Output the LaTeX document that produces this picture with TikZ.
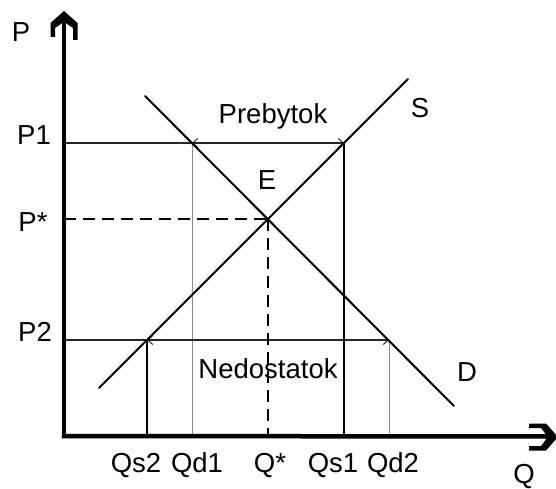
\documentclass[tikz,border=0pt]{standalone}
\usepackage{fontspec}
\setmainfont{Liberation Sans}
\usetikzlibrary{arrows.meta}
\begin{document}
\begin{tikzpicture}[x=1pt,y=-1pt,
  lbl/.style={font=\fontsize{27.5}{32}\selectfont, inner sep=0pt},
  axisline/.style={line width=4.5pt},
  axhead/.style={fill=black, draw=none},
  curve/.style={line width=2pt, line cap=round},
  level/.style={line width=1.3pt, draw=black!85},
  dropblack/.style={line width=1.4pt},
  dropgray/.style={line width=1pt, draw=black!45},
  guide/.style={line width=1.3pt, dash pattern=on 12pt off 7pt},
  tipbarb/.tip={Straight Barb[length=5pt,width=9pt,line width=1pt]},
  gap/.style={level, tipbarb-tipbarb}
]
\useasboundingbox (0,0) rectangle (556,489);
\begin{scope}
\clip (0,0) rectangle (556,489);
% key points
\coordinate (O) at (64,436);
\coordinate (Ytop) at (64,20);
\coordinate (Xend) at (550,436.5);
\coordinate (E) at (268,219);
\coordinate (Slo) at (99,388);
\coordinate (Shi) at (408,79);
\coordinate (Dhi) at (145,96);
\coordinate (Dlo) at (454,406);
\coordinate (P1) at (64,143);
\coordinate (Qd1t) at (192,143);
\coordinate (Qs1t) at (344,143);
\coordinate (P2) at (64,340);
\coordinate (Qs2t) at (147,340);
\coordinate (Qd2t) at (389,340);
\coordinate (Pst) at (64,219);
% vertical drops
\draw[dropgray] (Qd1t) -- (Qd1t |- O);
\draw[dropgray] (Qd2t) -- (Qd2t |- O);
\draw[dropblack] (Qs1t) -- (Qs1t |- O);
\draw[dropblack] (Qs2t) -- (Qs2t |- O);
% price levels
\draw[level] (P1) -- (Qd1t);
\draw[gap] (Qd1t) -- (Qs1t);
\draw[level] (P2) -- (Qs2t);
\draw[gap] (Qs2t) -- (Qd2t);
% equilibrium guides
\draw[guide] (Pst) -- (E);
\draw[guide] (E) -- (E |- O);
% supply and demand
\draw[curve] (Slo) -- (Shi);
\draw[curve] (Dhi) -- (Dlo);
% axes
\draw[axisline] (O) -- (Ytop);
\draw[axisline] ([xshift=-2.25pt]O) -- (Xend);
\fill[axhead] (64,11) -- (77.5,23) -- (77.5,40) -- (73,40) -- (73,28) -- (66.5,23.5) -- (61.5,23.5)
  -- (55,28) -- (55,37) -- (50.5,37) -- (50.5,23) -- cycle;
\fill[axhead] (558,437) -- (546,423.5) -- (529,423.5) -- (529,428) -- (541,428) -- (546,434.5)
  -- (546,439.5) -- (541,446) -- (529,446) -- (529,450.5) -- (546,450.5) -- cycle;
\end{scope}
% labels
\node[lbl] (lP) at (21,32) {P};
\node[lbl] (lP1) at (34,135) {P1};
\node[lbl] (lPs) at (33,222) {P*};
\node[lbl] (lP2) at (35,332) {P2};
\node[lbl] (lE) at (267,180) {E};
\node[lbl] (lPre) at (273,116) {Prebytok};
\node[lbl] (lS) at (420,108) {S};
\node[lbl] (lD) at (467,372) {D};
\node[lbl] (lNed) at (268,369) {Nedostatok};
\node[lbl] (lQs2) at (136,465) {Qs2};
\node[lbl] (lQd1) at (197,465) {Qd1};
\node[lbl] (lQs) at (270,465) {Q*};
\node[lbl] (lQs1) at (333,465) {Qs1};
\node[lbl] (lQd2) at (393,465) {Qd2};
\node[lbl] (lQ) at (524,476) {Q};
\end{tikzpicture}
\end{document}
